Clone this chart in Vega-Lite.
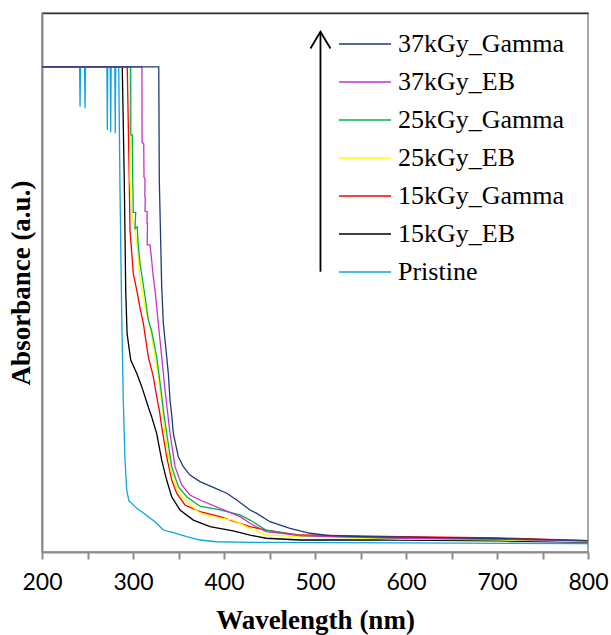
{
  "$schema": "https://vega.github.io/schema/vega-lite/v6.json",
  "width": 546,
  "height": 539,
  "autosize": {"type": "none"},
  "padding": {"left": 42, "top": 13, "right": 23, "bottom": 83},
  "background": "white",
  "config": {"view": {"stroke": "#8c8c8c", "strokeWidth": 1.5}},
  "resolve": {"axis": {"x": "independent"}},
  "datasets": {
    "spectra": [
      {"s": "Pristine", "x": 200, "y": 3.6},
      {"s": "Pristine", "x": 241.3, "y": 3.6},
      {"s": "Pristine", "x": 241.8, "y": 3.305},
      {"s": "Pristine", "x": 242.3, "y": 3.6},
      {"s": "Pristine", "x": 246.8, "y": 3.6},
      {"s": "Pristine", "x": 247.3, "y": 3.293},
      {"s": "Pristine", "x": 247.8, "y": 3.6},
      {"s": "Pristine", "x": 271.3, "y": 3.6},
      {"s": "Pristine", "x": 271.8, "y": 3.132},
      {"s": "Pristine", "x": 272.3, "y": 3.6},
      {"s": "Pristine", "x": 275.0, "y": 3.6},
      {"s": "Pristine", "x": 275.5, "y": 3.115},
      {"s": "Pristine", "x": 276.0, "y": 3.6},
      {"s": "Pristine", "x": 280.0, "y": 3.6},
      {"s": "Pristine", "x": 280.5, "y": 3.107},
      {"s": "Pristine", "x": 281.0, "y": 3.6},
      {"s": "Pristine", "x": 284.3, "y": 3.6},
      {"s": "Pristine", "x": 285.7, "y": 2.7},
      {"s": "Pristine", "x": 287.5, "y": 1.8},
      {"s": "Pristine", "x": 289.3, "y": 1.13},
      {"s": "Pristine", "x": 291.2, "y": 0.683},
      {"s": "Pristine", "x": 293.1, "y": 0.46},
      {"s": "Pristine", "x": 295.5, "y": 0.38},
      {"s": "Pristine", "x": 298.6, "y": 0.361},
      {"s": "Pristine", "x": 304.1, "y": 0.324},
      {"s": "Pristine", "x": 309.6, "y": 0.299},
      {"s": "Pristine", "x": 316.8, "y": 0.262},
      {"s": "Pristine", "x": 324.2, "y": 0.225},
      {"s": "Pristine", "x": 329.7, "y": 0.188},
      {"s": "Pristine", "x": 333.3, "y": 0.163},
      {"s": "Pristine", "x": 344.3, "y": 0.143},
      {"s": "Pristine", "x": 359.0, "y": 0.114},
      {"s": "Pristine", "x": 373.6, "y": 0.089},
      {"s": "Pristine", "x": 392.0, "y": 0.076},
      {"s": "Pristine", "x": 428.6, "y": 0.072},
      {"s": "Pristine", "x": 600, "y": 0.067},
      {"s": "Pristine", "x": 800, "y": 0.063},

      {"s": "15kGy_EB", "x": 200, "y": 3.6},
      {"s": "15kGy_EB", "x": 288.2, "y": 3.6},
      {"s": "15kGy_EB", "x": 290.4, "y": 2.76},
      {"s": "15kGy_EB", "x": 292.0, "y": 1.94},
      {"s": "15kGy_EB", "x": 293.5, "y": 1.62},
      {"s": "15kGy_EB", "x": 297.5, "y": 1.425},
      {"s": "15kGy_EB", "x": 304.1, "y": 1.326},
      {"s": "15kGy_EB", "x": 309.6, "y": 1.227},
      {"s": "15kGy_EB", "x": 317.9, "y": 1.054},
      {"s": "15kGy_EB", "x": 320.5, "y": 1.004},
      {"s": "15kGy_EB", "x": 326.0, "y": 0.881},
      {"s": "15kGy_EB", "x": 331.5, "y": 0.683},
      {"s": "15kGy_EB", "x": 337.0, "y": 0.534},
      {"s": "15kGy_EB", "x": 342.5, "y": 0.41},
      {"s": "15kGy_EB", "x": 351.6, "y": 0.312},
      {"s": "15kGy_EB", "x": 366.3, "y": 0.237},
      {"s": "15kGy_EB", "x": 384.6, "y": 0.188},
      {"s": "15kGy_EB", "x": 410.0, "y": 0.156},
      {"s": "15kGy_EB", "x": 428.6, "y": 0.126},
      {"s": "15kGy_EB", "x": 446.2, "y": 0.102},
      {"s": "15kGy_EB", "x": 483.5, "y": 0.089},
      {"s": "15kGy_EB", "x": 593.4, "y": 0.089},
      {"s": "15kGy_EB", "x": 703.3, "y": 0.082},
      {"s": "15kGy_EB", "x": 800, "y": 0.074},

      {"s": "15kGy_Gamma", "x": 200, "y": 3.6},
      {"s": "15kGy_Gamma", "x": 293.7, "y": 3.6},
      {"s": "15kGy_Gamma", "x": 295.9, "y": 2.76},
      {"s": "15kGy_Gamma", "x": 296.7, "y": 2.39},
      {"s": "15kGy_Gamma", "x": 300.3, "y": 2.068},
      {"s": "15kGy_Gamma", "x": 304.5, "y": 1.93},
      {"s": "15kGy_Gamma", "x": 308.0, "y": 1.8},
      {"s": "15kGy_Gamma", "x": 311.3, "y": 1.7},
      {"s": "15kGy_Gamma", "x": 316.8, "y": 1.449},
      {"s": "15kGy_Gamma", "x": 322.3, "y": 1.301},
      {"s": "15kGy_Gamma", "x": 326.7, "y": 1.128},
      {"s": "15kGy_Gamma", "x": 328.9, "y": 1.054},
      {"s": "15kGy_Gamma", "x": 331.5, "y": 0.93},
      {"s": "15kGy_Gamma", "x": 337.0, "y": 0.707},
      {"s": "15kGy_Gamma", "x": 342.5, "y": 0.534},
      {"s": "15kGy_Gamma", "x": 348.0, "y": 0.436},
      {"s": "15kGy_Gamma", "x": 357.1, "y": 0.349},
      {"s": "15kGy_Gamma", "x": 373.6, "y": 0.299},
      {"s": "15kGy_Gamma", "x": 395.6, "y": 0.262},
      {"s": "15kGy_Gamma", "x": 417.6, "y": 0.213},
      {"s": "15kGy_Gamma", "x": 428.6, "y": 0.188},
      {"s": "15kGy_Gamma", "x": 446.2, "y": 0.163},
      {"s": "15kGy_Gamma", "x": 483.5, "y": 0.126},
      {"s": "15kGy_Gamma", "x": 593.4, "y": 0.114},
      {"s": "15kGy_Gamma", "x": 703.3, "y": 0.104},
      {"s": "15kGy_Gamma", "x": 800, "y": 0.085},

      {"s": "25kGy_EB", "x": 200, "y": 3.6},
      {"s": "25kGy_EB", "x": 296.2, "y": 3.6},
      {"s": "25kGy_EB", "x": 296.7, "y": 2.76},
      {"s": "25kGy_EB", "x": 298.6, "y": 2.516},
      {"s": "25kGy_EB", "x": 303.3, "y": 2.34},
      {"s": "25kGy_EB", "x": 304.7, "y": 2.266},
      {"s": "25kGy_EB", "x": 307.7, "y": 2.019},
      {"s": "25kGy_EB", "x": 313.2, "y": 1.82},
      {"s": "25kGy_EB", "x": 318.7, "y": 1.672},
      {"s": "25kGy_EB", "x": 322.3, "y": 1.524},
      {"s": "25kGy_EB", "x": 324.2, "y": 1.449},
      {"s": "25kGy_EB", "x": 327.8, "y": 1.301},
      {"s": "25kGy_EB", "x": 329.7, "y": 1.202},
      {"s": "25kGy_EB", "x": 332.6, "y": 1.054},
      {"s": "25kGy_EB", "x": 335.2, "y": 0.881},
      {"s": "25kGy_EB", "x": 340.7, "y": 0.633},
      {"s": "25kGy_EB", "x": 348.0, "y": 0.473},
      {"s": "25kGy_EB", "x": 355.3, "y": 0.399},
      {"s": "25kGy_EB", "x": 366.3, "y": 0.33},
      {"s": "25kGy_EB", "x": 373.6, "y": 0.29},
      {"s": "25kGy_EB", "x": 384.6, "y": 0.262},
      {"s": "25kGy_EB", "x": 409.9, "y": 0.237},
      {"s": "25kGy_EB", "x": 428.6, "y": 0.175},
      {"s": "25kGy_EB", "x": 446.2, "y": 0.126},
      {"s": "25kGy_EB", "x": 483.5, "y": 0.114},
      {"s": "25kGy_EB", "x": 593.4, "y": 0.096},
      {"s": "25kGy_EB", "x": 703.3, "y": 0.09},
      {"s": "25kGy_EB", "x": 800, "y": 0.078},

      {"s": "25kGy_Gamma", "x": 200, "y": 3.6},
      {"s": "25kGy_Gamma", "x": 297.5, "y": 3.6},
      {"s": "25kGy_Gamma", "x": 297.6, "y": 3.095},
      {"s": "25kGy_Gamma", "x": 299.2, "y": 3.095},
      {"s": "25kGy_Gamma", "x": 299.7, "y": 2.76},
      {"s": "25kGy_Gamma", "x": 300.3, "y": 2.52},
      {"s": "25kGy_Gamma", "x": 303.0, "y": 2.52},
      {"s": "25kGy_Gamma", "x": 302.2, "y": 2.4},
      {"s": "25kGy_Gamma", "x": 304.7, "y": 2.414},
      {"s": "25kGy_Gamma", "x": 305.5, "y": 2.3},
      {"s": "25kGy_Gamma", "x": 307.7, "y": 2.142},
      {"s": "25kGy_Gamma", "x": 313.2, "y": 1.898},
      {"s": "25kGy_Gamma", "x": 316.8, "y": 1.722},
      {"s": "25kGy_Gamma", "x": 320.5, "y": 1.64},
      {"s": "25kGy_Gamma", "x": 326.0, "y": 1.449},
      {"s": "25kGy_Gamma", "x": 330.8, "y": 1.202},
      {"s": "25kGy_Gamma", "x": 333.3, "y": 1.054},
      {"s": "25kGy_Gamma", "x": 337.0, "y": 0.883},
      {"s": "25kGy_Gamma", "x": 342.5, "y": 0.633},
      {"s": "25kGy_Gamma", "x": 349.8, "y": 0.485},
      {"s": "25kGy_Gamma", "x": 359.0, "y": 0.41},
      {"s": "25kGy_Gamma", "x": 373.6, "y": 0.34},
      {"s": "25kGy_Gamma", "x": 395.6, "y": 0.312},
      {"s": "25kGy_Gamma", "x": 417.6, "y": 0.275},
      {"s": "25kGy_Gamma", "x": 428.6, "y": 0.237},
      {"s": "25kGy_Gamma", "x": 446.2, "y": 0.163},
      {"s": "25kGy_Gamma", "x": 483.5, "y": 0.122},
      {"s": "25kGy_Gamma", "x": 593.4, "y": 0.102},
      {"s": "25kGy_Gamma", "x": 703.3, "y": 0.095},
      {"s": "25kGy_Gamma", "x": 800, "y": 0.082},

      {"s": "37kGy_EB", "x": 200, "y": 3.6},
      {"s": "37kGy_EB", "x": 309.8, "y": 3.6},
      {"s": "37kGy_EB", "x": 310.0, "y": 3.04},
      {"s": "37kGy_EB", "x": 311.8, "y": 3.03},
      {"s": "37kGy_EB", "x": 312.1, "y": 2.78},
      {"s": "37kGy_EB", "x": 313.2, "y": 2.77},
      {"s": "37kGy_EB", "x": 313.0, "y": 2.64},
      {"s": "37kGy_EB", "x": 313.5, "y": 2.62},
      {"s": "37kGy_EB", "x": 313.2, "y": 2.53},
      {"s": "37kGy_EB", "x": 315.6, "y": 2.525},
      {"s": "37kGy_EB", "x": 315.3, "y": 2.44},
      {"s": "37kGy_EB", "x": 315.9, "y": 2.44},
      {"s": "37kGy_EB", "x": 315.6, "y": 2.28},
      {"s": "37kGy_EB", "x": 318.7, "y": 2.278},
      {"s": "37kGy_EB", "x": 320.5, "y": 2.167},
      {"s": "37kGy_EB", "x": 322.3, "y": 2.043},
      {"s": "37kGy_EB", "x": 324.2, "y": 1.944},
      {"s": "37kGy_EB", "x": 327.8, "y": 1.699},
      {"s": "37kGy_EB", "x": 331.5, "y": 1.449},
      {"s": "37kGy_EB", "x": 335.2, "y": 1.202},
      {"s": "37kGy_EB", "x": 337.7, "y": 1.054},
      {"s": "37kGy_EB", "x": 340.7, "y": 0.881},
      {"s": "37kGy_EB", "x": 346.2, "y": 0.633},
      {"s": "37kGy_EB", "x": 353.5, "y": 0.497},
      {"s": "37kGy_EB", "x": 362.6, "y": 0.423},
      {"s": "37kGy_EB", "x": 373.6, "y": 0.386},
      {"s": "37kGy_EB", "x": 395.6, "y": 0.324},
      {"s": "37kGy_EB", "x": 417.6, "y": 0.262},
      {"s": "37kGy_EB", "x": 428.6, "y": 0.213},
      {"s": "37kGy_EB", "x": 446.2, "y": 0.151},
      {"s": "37kGy_EB", "x": 483.5, "y": 0.122},
      {"s": "37kGy_EB", "x": 593.4, "y": 0.104},
      {"s": "37kGy_EB", "x": 703.3, "y": 0.095},
      {"s": "37kGy_EB", "x": 800, "y": 0.082},

      {"s": "37kGy_Gamma", "x": 200, "y": 3.6},
      {"s": "37kGy_Gamma", "x": 328.3, "y": 3.6},
      {"s": "37kGy_Gamma", "x": 328.9, "y": 2.76},
      {"s": "37kGy_Gamma", "x": 331.5, "y": 1.98},
      {"s": "37kGy_Gamma", "x": 333.3, "y": 1.7},
      {"s": "37kGy_Gamma", "x": 335.2, "y": 1.573},
      {"s": "37kGy_Gamma", "x": 338.8, "y": 1.326},
      {"s": "37kGy_Gamma", "x": 340.7, "y": 1.128},
      {"s": "37kGy_Gamma", "x": 342.5, "y": 1.02},
      {"s": "37kGy_Gamma", "x": 344.3, "y": 0.881},
      {"s": "37kGy_Gamma", "x": 349.8, "y": 0.707},
      {"s": "37kGy_Gamma", "x": 355.3, "y": 0.633},
      {"s": "37kGy_Gamma", "x": 362.6, "y": 0.571},
      {"s": "37kGy_Gamma", "x": 373.6, "y": 0.522},
      {"s": "37kGy_Gamma", "x": 388.2, "y": 0.48},
      {"s": "37kGy_Gamma", "x": 403.0, "y": 0.436},
      {"s": "37kGy_Gamma", "x": 414.0, "y": 0.386},
      {"s": "37kGy_Gamma", "x": 428.6, "y": 0.312},
      {"s": "37kGy_Gamma", "x": 435.9, "y": 0.287},
      {"s": "37kGy_Gamma", "x": 450.5, "y": 0.225},
      {"s": "37kGy_Gamma", "x": 472.5, "y": 0.176},
      {"s": "37kGy_Gamma", "x": 494.5, "y": 0.139},
      {"s": "37kGy_Gamma", "x": 516.5, "y": 0.121},
      {"s": "37kGy_Gamma", "x": 552.7, "y": 0.114},
      {"s": "37kGy_Gamma", "x": 604.4, "y": 0.111},
      {"s": "37kGy_Gamma", "x": 703.3, "y": 0.1},
      {"s": "37kGy_Gamma", "x": 800, "y": 0.085}
    ],
    "arrow": [{"x": 506, "ytop": 3.861, "ybottom": 2.08}]
  },
  "layer": [
    {
      "data": {"name": "spectra"},
      "mark": {"type": "line", "strokeWidth": 1.3},
      "encoding": {
        "x": {
          "field": "x",
          "type": "quantitative",
          "scale": {"domain": [200, 800], "nice": false, "zero": false},
          "axis": {
            "values": [200, 250, 300, 350, 400, 450, 500, 550, 600, 650, 700, 750, 800],
            "labelExpr": "datum.value % 100 === 0 ? datum.label : ''",
            "labelFlush": false,
            "labelOverlap": false,
            "grid": false,
            "domainColor": "#8c8c8c",
            "domainWidth": 2,
            "tickColor": "#8c8c8c",
            "tickWidth": 2,
            "tickSize": 7,
            "labelFont": "Lato",
            "labelFontSize": 23,
            "labelColor": "black",
            "labelPadding": 12,
            "title": "Wavelength (nm)",
            "titleFont": "Liberation Serif",
            "titleFontSize": 27,
            "titleFontWeight": "bold",
            "titleColor": "black",
            "titlePadding": 13
          }
        },
        "y": {
          "field": "y",
          "type": "quantitative",
          "scale": {"domain": [0, 4], "nice": false},
          "axis": {
            "labels": false,
            "ticks": false,
            "grid": false,
            "domainColor": "#8c8c8c",
            "domainWidth": 2,
            "title": "Absorbance (a.u.)",
            "titleFont": "Liberation Serif",
            "titleFontSize": 27,
            "titleFontWeight": "bold",
            "titleColor": "black",
            "titlePadding": 7
          }
        },
        "color": {
          "field": "s",
          "type": "nominal",
          "scale": {
            "domain": ["37kGy_Gamma", "37kGy_EB", "25kGy_Gamma", "25kGy_EB", "15kGy_Gamma", "15kGy_EB", "Pristine"],
            "range": ["#1f3a78", "#c832c8", "#00b050", "#ffff00", "#ff0000", "#000000", "#10a3dc"]
          },
          "legend": {
            "orient": "none",
            "legendX": 296,
            "legendY": 12,
            "title": null,
            "symbolType": "stroke",
            "symbolSize": 2704,
            "symbolStrokeWidth": 1.5,
            "clipHeight": 38,
            "rowPadding": 0,
            "padding": 0,
            "labelFont": "Liberation Serif",
            "labelFontSize": 26,
            "labelColor": "black",
            "labelOffset": 6,
            "labelLimit": 300
          }
        },
        "order": {"value": null}
      }
    },
    {
      "data": {"name": "arrow"},
      "mark": {"type": "rule", "color": "black", "strokeWidth": 1.8},
      "encoding": {
        "x": {
          "field": "x",
          "type": "quantitative",
          "axis": {"orient": "top", "labels": false, "ticks": false, "grid": false, "title": null, "domainColor": "#333333", "domainWidth": 1.5}
        },
        "y": {"field": "ytop", "type": "quantitative"},
        "y2": {"field": "ybottom"}
      }
    },
    {
      "data": {"name": "arrow"},
      "mark": {"type": "point", "shape": "M-0.6,1L0,0L0.6,1", "size": 1115, "filled": false, "stroke": "black", "strokeWidth": 1.8, "opacity": 1},
      "encoding": {
        "x": {"field": "x", "type": "quantitative", "axis": null},
        "y": {"field": "ytop", "type": "quantitative"}
      }
    }
  ]
}
